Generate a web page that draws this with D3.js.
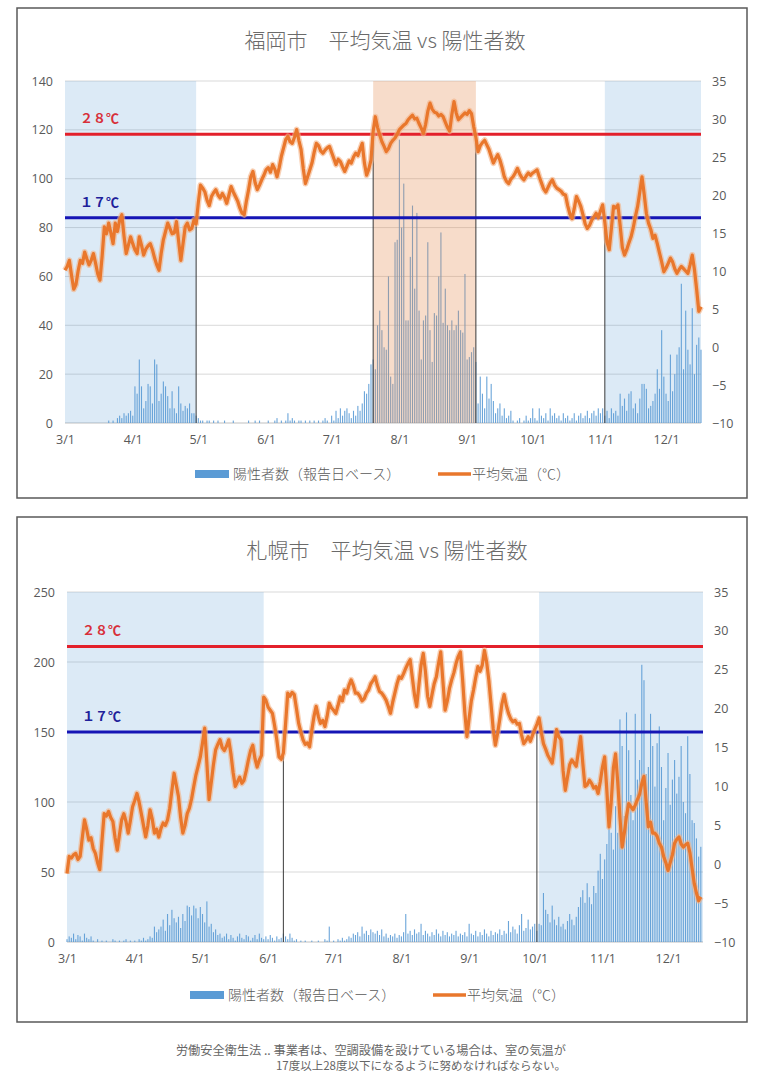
<!DOCTYPE html>
<html>
<head>
<meta charset="utf-8">
<script src="https://cdn.jsdelivr.net/npm/d3@7"></script>
<style>
  body { margin: 0; background: #fff; }
  svg text { font-family: "Noto Sans CJK JP", "Noto Sans", sans-serif; }
</style>
</head>
<body>
<svg id="chart" width="765" height="1080"></svg>
<script>
// ---- data (daily, starting 3/1) ----
var startDate = "2020/03/01";
var monthTicks = ["2020/03/01", "2020/04/01", "2020/05/01", "2020/06/01", "2020/07/01",
  "2020/08/01", "2020/09/01", "2020/10/01", "2020/11/01", "2020/12/01"];
var tempTicks = [-10, -5, 0, 5, 10, 15, 20, 25, 30, 35];
var thresholds = [28, 17];
var thresholdLabels = ["２８℃", "１７℃"];

var fukuokaTemp = [
  10.1,10.6,11.4,9.4,7.6,8.2,10.0,11.4,11.0,12.5,11.6,10.8,11.4,12.3,11.0,9.6,8.8,12.0,15.8,14.9,16.3,15.0,13.6,16.3,15.2,16.7,17.4,14.6,12.3,13.4,14.5,
  13.6,12.8,12.3,14.5,13.4,12.1,12.9,13.3,13.6,12.8,11.7,10.8,10.1,12.3,14.1,15.2,16.3,15.6,14.9,15.0,16.5,13.9,11.4,13.6,15.8,16.3,15.4,15.6,16.7,16.2,
  19.0,21.3,20.9,20.4,19.3,18.6,19.8,20.3,20.7,20.0,19.6,20.2,19.7,18.9,20.0,21.1,20.4,19.8,19.2,18.3,17.6,17.4,19.2,20.7,22.4,23.1,21.6,20.7,21.3,22.0,22.6,
  23.3,23.6,23.0,24.0,23.4,22.4,23.6,25.1,26.2,27.3,27.7,27.0,26.8,27.6,28.6,27.2,26.0,23.5,21.5,22.4,23.3,24.2,25.6,26.8,26.5,25.8,25.5,25.9,26.2,26.4,
  25.6,24.8,24.0,24.7,24.4,23.7,23.1,23.8,24.5,24.2,25.0,25.5,25.2,26.0,26.8,24.2,22.6,23.4,24.6,28.4,30.3,28.9,27.9,27.0,26.4,25.7,26.1,26.8,27.2,27.5,28.0,
  28.6,28.9,29.2,29.4,29.9,30.2,30.5,30.0,30.1,29.4,28.8,28.1,29.3,31.0,32.1,31.3,30.9,30.8,30.4,30.6,30.3,29.6,28.9,28.4,30.6,32.3,30.8,29.9,30.2,30.5,30.8,
  30.6,31.1,30.7,29.0,27.6,25.7,26.5,26.9,27.2,26.6,26.0,25.1,24.2,24.8,25.3,24.6,23.6,22.4,21.8,21.5,22.1,22.4,22.9,23.5,22.8,22.3,22.0,22.5,22.9,22.6,
  22.9,23.1,23.3,22.4,21.6,20.8,20.4,21.0,21.6,22.0,21.3,20.9,20.7,20.5,20.1,20.0,18.6,17.5,16.9,18.2,19.8,19.2,18.5,17.4,16.2,15.6,16.0,16.7,17.1,17.6,17.0,
  17.9,18.7,16.4,13.8,12.8,15.6,18.5,18.3,18.7,16.0,13.1,12.1,12.8,13.7,14.5,15.7,17.2,18.5,20.4,22.4,20.1,17.6,16.3,15.5,14.3,14.7,13.6,12.4,11.2,9.9,
  10.4,11.0,11.7,11.2,10.3,9.7,10.2,10.6,10.3,10.0,9.7,10.8,12.1,10.2,7.6,4.7,5.3
];
var fukuokaCases = [
  0,0,0,0,0,0,0,0,0,0,0,0,0,0,0,0,0,0,0,0,1,0,1,0,2,3,2,4,3,4,5,
  3,15,12,26,15,6,9,16,15,8,26,24,9,12,17,15,11,6,13,6,4,15,8,5,7,6,8,4,4,3,
  2,1,1,0,1,1,0,1,0,1,0,0,1,0,0,0,1,0,0,0,0,0,0,1,0,0,1,0,1,0,0,
  0,1,0,0,1,2,0,1,0,1,4,1,2,1,0,1,1,0,1,0,1,0,1,0,1,0,1,2,1,0,
  3,1,5,2,6,3,5,6,4,2,5,3,7,5,8,13,12,16,24,26,22,40,46,38,31,30,60,19,16,74,75,
  116,80,98,42,42,68,89,55,86,46,26,42,44,74,38,25,45,44,60,78,41,55,40,38,42,38,40,46,38,37,61,
  26,27,29,31,25,8,19,12,6,19,10,16,9,4,6,8,3,6,2,3,5,1,0,1,2,0,1,3,1,2,
  6,2,1,6,3,2,4,1,6,3,4,2,3,1,4,2,3,1,2,4,1,3,4,2,3,5,2,4,5,3,6,
  4,6,3,5,2,6,4,5,3,12,7,10,5,12,13,6,8,4,10,16,16,14,6,7,9,12,22,14,38,19,
  12,9,28,13,20,28,31,57,22,46,30,24,47,20,32,35,30
];
var fukuokaCaseTicks = [0, 20, 40, 60, 80, 100, 120, 140];
var fukuokaBands = [
  { from: "2020/03/01", to: "2020/04/30", kind: "cool" },
  { from: "2020/07/20", to: "2020/09/05", kind: "hot" },
  { from: "2020/11/03", to: "2020/12/17", kind: "cool" }
];
var fukuokaMarkers = [
  { date: "2020/04/30", temp: 17 },
  { date: "2020/07/20", temp: 28 },
  { date: "2020/09/05", temp: 28 },
  { date: "2020/11/03", temp: 17 }
];

var sapporoTemp = [
  -1.2,1.0,0.8,1.2,1.4,0.6,1.0,3.4,5.7,4.5,3.1,3.4,2.0,1.4,0.2,-0.7,3.0,6.5,6.2,6.8,6.0,5.5,3.4,1.8,3.8,5.7,6.5,5.5,4.0,5.6,7.4,
  8.2,9.1,8.0,6.5,5.0,3.5,5.0,7.0,5.8,4.0,4.5,3.5,4.6,5.3,5.0,5.7,7.2,9.5,11.7,10.2,8.7,6.0,4.0,5.0,6.5,7.2,8.4,10.0,11.5,12.6,
  13.8,15.6,17.5,13.0,8.3,10.5,12.8,14.7,15.4,16.0,15.0,14.6,15.2,16.0,14.2,11.8,10.0,10.6,11.2,10.4,10.8,12.0,13.4,14.6,15.3,13.6,12.5,13.4,14.0,21.5,21.1,
  20.2,19.8,19.4,17.8,16.0,13.8,13.5,14.3,18.0,22.0,21.6,22.1,21.8,20.0,18.1,17.0,16.0,15.4,15.6,15.1,17.2,19.0,20.3,19.0,18.1,18.5,17.7,19.0,20.7,20.1,
  19.8,19.4,20.4,21.5,21.0,22.4,22.0,23.0,23.7,23.0,22.0,22.0,21.6,21.0,21.3,22.0,22.4,23.2,23.6,24.1,23.0,22.2,22.0,21.6,21.1,20.3,19.4,20.8,22.0,23.2,24.1,
  23.9,24.5,25.2,25.8,26.3,24.0,21.8,20.3,23.0,25.6,27.1,24.8,21.6,20.3,21.8,23.2,24.1,25.8,27.3,23.5,19.8,21.0,22.6,23.7,24.6,25.8,26.7,27.3,23.8,19.6,16.4,
  18.8,21.0,22.4,24.0,25.4,24.8,25.6,27.5,26.0,23.7,20.6,17.4,15.3,16.8,18.6,20.6,21.8,20.4,19.4,18.7,18.3,18.5,18.0,18.1,16.6,15.5,15.9,16.4,15.8,16.6,
  17.3,18.0,18.8,17.0,15.5,14.8,14.0,13.5,13.0,15.0,17.3,16.4,16.0,12.0,9.5,11.2,12.8,13.4,13.0,12.6,14.5,16.4,13.0,10.0,10.2,10.8,10.4,9.8,10.0,9.1,10.6,
  12.5,13.8,9.5,4.8,8.0,12.4,14.2,10.5,6.0,2.2,4.0,6.2,7.8,7.4,7.0,7.6,8.3,9.0,10.4,11.3,8.0,4.8,5.4,4.0,4.0,3.6,2.7,2.2,1.0,0.2,
  -0.8,0.2,1.2,2.7,3.2,3.5,2.6,2.2,2.5,2.7,1.5,-0.5,-2.5,-3.7,-4.7,-4.2
];
var sapporoCases = [
  2,4,3,6,2,5,4,1,6,3,2,4,1,0,2,0,1,0,1,0,0,2,1,0,1,0,1,2,0,1,0,
  1,0,2,1,3,1,2,4,3,11,7,9,11,16,8,20,12,23,17,14,18,10,20,15,26,25,19,26,24,17,
  25,20,14,29,11,13,7,9,5,6,3,4,6,2,5,3,1,4,6,3,2,5,4,1,3,5,2,6,3,2,4,
  2,5,3,1,4,2,3,6,4,2,6,3,1,2,0,1,0,1,0,0,1,0,0,1,0,0,2,1,11,0,
  1,0,2,1,3,1,2,4,3,6,5,7,4,11,6,8,5,9,7,6,8,5,9,4,6,3,5,4,6,3,5,
  4,7,20,6,8,5,9,6,7,13,5,8,6,4,7,5,9,6,4,8,5,7,4,6,5,8,4,6,5,7,4,
  13,6,5,8,4,7,5,9,6,4,8,5,7,6,9,5,8,6,15,7,11,9,6,12,20,8,10,16,9,11,
  13,8,13,12,35,23,20,14,26,16,12,18,11,13,9,15,20,16,12,18,25,32,37,28,42,32,27,40,35,51,63,
  45,59,70,92,78,66,97,78,159,140,90,164,137,105,87,163,116,130,198,187,120,125,163,140,111,142,154,125,87,110,
  135,98,116,130,106,118,140,100,92,147,120,87,85,74,61,68
];
var sapporoCaseTicks = [0, 50, 100, 150, 200, 250];
var sapporoBands = [
  { from: "2020/03/01", to: "2020/05/30", kind: "cool" },
  { from: "2020/10/03", to: "2020/12/17", kind: "cool" }
];
var sapporoMarkers = [
  { date: "2020/06/08", temp: 17 },
  { date: "2020/10/02", temp: 17 }
];

// ---- drawing ----
var parseDate = d3.timeParse("%Y/%m/%d");
var fmtTick = d3.timeFormat("%-m/%-d");
var svg = d3.select("#chart");
var textColor = "#595959";
var bandColors = { cool: "rgba(91,155,213,0.21)", hot: "rgba(228,140,80,0.30)" };

function drawChart(cfg) {
  var g = svg.append("g");
  var p = cfg.plot;
  var start = parseDate(startDate);
  var end = parseDate("2020/12/17");

  // frame
  g.append("rect")
    .attr("x", cfg.box[0]).attr("y", cfg.box[1])
    .attr("width", cfg.box[2]).attr("height", cfg.box[3])
    .attr("fill", "#fff").attr("stroke", "#595959").attr("stroke-width", 1.5);

  var x = d3.scaleTime().domain([start, end]).range([p.left, p.right]);
  var yL = d3.scaleLinear().domain([0, d3.max(cfg.caseTicks)]).range([p.bottom, p.top]);
  var yR = d3.scaleLinear().domain([-10, 35]).range([p.bottom, p.top]);
  var dayOf = function(i) { return d3.timeDay.offset(start, i); };

  // title
  g.append("text")
    .attr("x", (p.left + p.right) / 2 + 2).attr("y", cfg.titleY)
    .attr("text-anchor", "middle").attr("font-size", 21).attr("font-weight", 300)
    .attr("fill", "#6a6a6a")
    .text(cfg.title);

  // gridlines
  g.selectAll(".grid").data(cfg.caseTicks).enter().append("line")
    .attr("x1", p.left).attr("x2", p.right)
    .attr("y1", d => yL(d)).attr("y2", d => yL(d))
    .attr("stroke", d => d === 0 ? "#bfbfbf" : "#d9d9d9").attr("stroke-width", 1);

  // left axis
  var leftAxis = d3.axisLeft(yL).tickValues(cfg.caseTicks).tickSize(0).tickPadding(12);
  var la = g.append("g").attr("transform", `translate(${p.left},0)`).call(leftAxis);
  la.select(".domain").remove();
  la.selectAll("text").attr("fill", textColor).attr("font-size", 12.5)
    .style("font-family", "'Open Sans', sans-serif");

  // right axis
  var rightAxis = d3.axisRight(yR).tickValues(tempTicks).tickSize(0).tickPadding(11);
  var ra = g.append("g").attr("transform", `translate(${p.right},0)`).call(rightAxis);
  ra.select(".domain").remove();
  ra.selectAll("text").attr("fill", textColor).attr("font-size", 12.5)
    .style("font-family", "'Open Sans', sans-serif");

  // bottom axis
  var bottomAxis = d3.axisBottom(x).tickValues(monthTicks.map(parseDate))
    .tickFormat(fmtTick).tickSize(0).tickPadding(12);
  var ba = g.append("g").attr("transform", `translate(0,${p.bottom})`).call(bottomAxis);
  ba.select(".domain").remove();
  ba.selectAll("text").attr("fill", textColor).attr("font-size", 12.5)
    .style("font-family", "'Open Sans', sans-serif");

  // case bars
  g.append("g").selectAll("rect").data(cfg.cases).enter().append("rect")
    .attr("x", (d, i) => x(dayOf(i)) - 0.55)
    .attr("width", 1.1)
    .attr("y", d => yL(d))
    .attr("height", d => yL(0) - yL(d))
    .attr("fill", "#5b9bd5").attr("fill-opacity", 0.9);

  // shaded periods
  g.append("g").selectAll("rect").data(cfg.bands).enter().append("rect")
    .attr("x", d => x(parseDate(d.from)))
    .attr("width", d => x(parseDate(d.to)) - x(parseDate(d.from)))
    .attr("y", p.top).attr("height", p.bottom - p.top)
    .attr("fill", d => bandColors[d.kind]);

  // crossing markers
  g.append("g").selectAll("line").data(cfg.markers).enter().append("line")
    .attr("x1", d => x(parseDate(d.date))).attr("x2", d => x(parseDate(d.date)))
    .attr("y1", d => yR(d.temp)).attr("y2", p.bottom)
    .attr("stroke", "#3a3a3a").attr("stroke-width", 1);

  // threshold lines
  var thrColors = ["#e3202b", "#1515b5"];
  g.append("g").selectAll("line").data(thresholds).enter().append("line")
    .attr("x1", p.left).attr("x2", p.right)
    .attr("y1", d => yR(d)).attr("y2", d => yR(d))
    .attr("stroke", (d, i) => thrColors[i]).attr("stroke-width", 3);
  g.append("g").selectAll("text").data(thresholds).enter().append("text")
    .attr("x", p.left + 15).attr("y", d => yR(d) - 11)
    .attr("font-size", 13).attr("font-weight", "bold")
    .attr("fill", (d, i) => i === 0 ? "#d8303a" : "#20209a")
    .text((d, i) => thresholdLabels[i]);

  // temperature line
  var line = d3.line()
    .x((d, i) => x(dayOf(i)))
    .y(d => yR(d));
  g.append("path").datum(cfg.temp)
    .attr("d", line).attr("fill", "none")
    .attr("stroke", "#f4b183").attr("stroke-width", 6).attr("stroke-opacity", 0.6)
    .attr("stroke-linejoin", "round");
  g.append("path").datum(cfg.temp)
    .attr("d", line).attr("fill", "none")
    .attr("stroke", "#e9772c").attr("stroke-width", 3.2)
    .attr("stroke-linejoin", "round");

  // legend
  var lg = g.append("g").attr("transform", `translate(0,${cfg.legendY})`);
  lg.append("rect").attr("x", cfg.legendX).attr("y", -4).attr("width", 34).attr("height", 8)
    .attr("fill", "#5b9bd5");
  lg.append("text").attr("x", cfg.legendX + 38).attr("y", 5)
    .attr("font-size", 14).attr("font-weight", 300).attr("fill", textColor)
    .text("陽性者数（報告日ベース）");
  lg.append("line").attr("x1", cfg.legendX + 243).attr("x2", cfg.legendX + 276)
    .attr("y1", 0).attr("y2", 0).attr("stroke", "#e9772c").attr("stroke-width", 3.5);
  lg.append("text").attr("x", cfg.legendX + 277).attr("y", 5)
    .attr("font-size", 14).attr("font-weight", 300).attr("fill", textColor)
    .text("平均気温（℃）");
}

drawChart({
  title: "福岡市　平均気温 vs 陽性者数",
  box: [17, 8, 730, 490],
  plot: { left: 65, right: 701, top: 81, bottom: 423 },
  titleY: 48,
  legendY: 474, legendX: 195,
  temp: fukuokaTemp, cases: fukuokaCases, caseTicks: fukuokaCaseTicks,
  bands: fukuokaBands, markers: fukuokaMarkers
});

drawChart({
  title: "札幌市　平均気温 vs 陽性者数",
  box: [17, 517, 730, 505],
  plot: { left: 67, right: 703, top: 592, bottom: 942 },
  titleY: 558,
  legendY: 995, legendX: 190,
  temp: sapporoTemp, cases: sapporoCases, caseTicks: sapporoCaseTicks,
  bands: sapporoBands, markers: sapporoMarkers
});

// footnote
var note = svg.append("g").attr("fill", "#666").attr("text-anchor", "end");
note.append("text").attr("x", 566).attr("y", 1055).attr("font-size", 12.2)
  .text("労働安全衛生法 .. 事業者は、空調設備を設けている場合は、室の気温が");
note.append("text").attr("x", 566).attr("y", 1070).attr("font-size", 11.5)
  .text("17度以上28度以下になるように努めなければならない。");
</script>
</body>
</html>
